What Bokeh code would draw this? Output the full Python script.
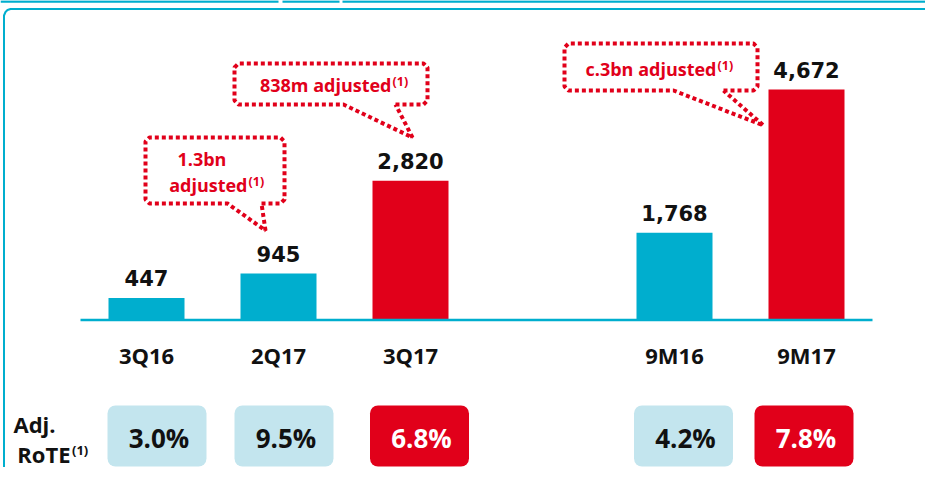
from bokeh.plotting import figure
from bokeh.models import Range1d
from bokeh.core.properties import value
from bokeh.embed import file_html
from bokeh.resources import INLINE

# ---------------- data ----------------
categories = ["3Q16", "2Q17", "3Q17", "9M16", "9M17"]
profit = [447, 945, 2820, 1768, 4672]
profit_labels = ["447", "945", "2,820", "1,768", "4,672"]
rote = [3.0, 9.5, 6.8, 4.2, 7.8]
rote_labels = ["3.0%", "9.5%", "6.8%", "4.2%", "7.8%"]
highlight = [False, False, True, False, True]
callout_main = ["adjusted", "838m adjusted", "c.3bn adjusted"]
callout_first_line = "1.3bn"
footnote = "(1)"
row_label = ["Adj.", "RoTE"]

# ---------------- layout / style ----------------
CYAN = "#00AECE"
RED = "#E1001A"
LIGHT = "#C3E5EE"
slots = [0, 1, 2, 4, 5]
W, H = 925, 467
X0_PX, SLOT_PX = 146, 132    # px of slot 0 and slot spacing
BASE_PX = 319.5              # px of value 0
PX_PER_UNIT = 230.5 / 4672

def px_x(r):
    return (r - X0_PX) / SLOT_PX

def px_y(r):
    return (BASE_PX - r) / PX_PER_UNIT

p = figure(width=W, height=H, output_backend="svg", toolbar_location=None,
           x_range=Range1d(px_x(0), px_x(W)),
           y_range=Range1d(px_y(H), px_y(0)),
           min_border=0)
p.axis.visible = False
p.grid.visible = False
p.outline_line_color = None
p.background_fill_color = "white"
p.border_fill_color = "white"

# header strips at the very top
p.segment(x0=[px_x(0), px_x(282), px_x(342)], x1=[px_x(278), px_x(339), px_x(W)],
          y0=[px_y(1)] * 3, y1=[px_y(1)] * 3, line_color=CYAN, line_width=2.5)

# panel border (top + left, rounded corner)
p.line([px_x(3.5), px_x(3.5), px_x(5), px_x(7), px_x(10), px_x(W)],
       [px_y(H), px_y(15), px_y(11.5), px_y(9.5), px_y(8.5), px_y(8.5)],
       line_color=CYAN, line_width=2)

# bars
colors = [RED if h else CYAN for h in highlight]
p.vbar(x=slots, top=profit, bottom=0, width=76 / SLOT_PX, fill_color=colors, line_color=None)

# baseline
p.segment(x0=[px_x(80)], x1=[px_x(872)], y0=[0], y1=[0], line_color=CYAN, line_width=2.5)

# value labels
p.text(x=slots, y=profit, text=profit_labels, text_align="center", text_baseline="middle",
       y_offset=-19.5, text_font=value("DejaVu Sans"), text_font_style="bold",
       text_font_size="21px", text_color="#111111")

# category labels
p.text(x=slots, y=[0] * len(slots), text=categories, text_align="center",
       text_baseline="middle", y_offset=35, text_font=value("Open Sans"),
       text_font_style="bold", text_font_size="22px", text_color="#111111")

# RoTE boxes
box_shift_px = [10.5, 5.5, 9, 9, -2.5]
box_w = 99 / SLOT_PX
centers = [s + d / SLOT_PX for s, d in zip(slots, box_shift_px)]
p.quad(left=[c - box_w / 2 for c in centers], right=[c + box_w / 2 for c in centers],
       top=px_y(405), bottom=px_y(466),
       fill_color=[RED if h else LIGHT for h in highlight], line_color=None, border_radius=8)
p.text(x=[c + 2 / SLOT_PX for c in centers], y=[px_y(437)] * len(centers), text=rote_labels,
       text_align="center", text_baseline="middle", text_font=value("Open Sans"),
       text_font_style="bold", text_font_size="26px",
       text_color=["white" if h else "#111111" for h in highlight])

# row label
p.text(x=[px_x(13)], y=[px_y(423)], text=[row_label[0]], text_align="left",
       text_baseline="middle", text_font=value("Open Sans"), text_font_style="bold",
       text_font_size="22px", text_color="#111111")
p.text(x=[px_x(70)], y=[px_y(453)], text=[row_label[1]], text_align="right",
       text_baseline="middle", text_font=value("Open Sans"), text_font_style="bold",
       text_font_size="22px", text_color="#111111")
p.text(x=[px_x(71.5)], y=[px_y(449)], text=[footnote], text_align="left",
       text_baseline="middle", text_font=value("Open Sans"), text_font_style="bold",
       text_font_size="13px", text_color="#111111")

# callouts
def callout(x0, y0, x1, y1, a, b, tx, ty, r=4):
    pts = [(b, y1), (x1 - r, y1), (x1, y1 - r), (x1, y0 + r), (x1 - r, y0),
           (x0 + r, y0), (x0, y0 + r), (x0, y1 - r), (x0 + r, y1), (a, y1), (tx, ty), (b, y1)]
    p.line([px_x(u) for u, _ in pts], [px_y(v) for _, v in pts],
           line_color=RED, line_width=4, line_dash="4 3")

callout(145, 137, 284, 203, 227, 261, 265, 230)
callout(234, 63, 427, 104, 343, 395, 412, 137)
callout(564, 43, 757, 90, 673, 723, 763, 125)

tf = dict(text_font=value("Open Sans"), text_font_style="bold", text_color=RED,
          text_baseline="middle")
p.text(x=[px_x(177)], y=[px_y(158.5)], text=[callout_first_line], text_align="left",
       text_font_size="18px", **tf)
p.text(x=[px_x(247), px_x(391), px_x(716)], y=[px_y(184.5), px_y(84), px_y(68)],
       text=callout_main, text_align="right", text_font_size="18px", **tf)
p.text(x=[px_x(248), px_x(392), px_x(717)], y=[px_y(181), px_y(81), px_y(64.5)],
       text=[footnote] * 3, text_align="left", text_font_size="12.5px", **tf)

open("out.html", "w").write(file_html(p, INLINE))
